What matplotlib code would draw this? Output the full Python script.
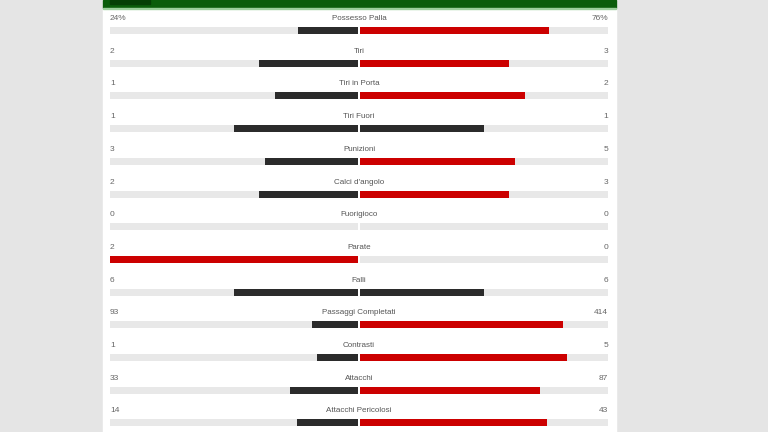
import matplotlib.pyplot as plt
from matplotlib.patches import Rectangle

plt.rcParams['font.family'] = ['Liberation Sans', 'DejaVu Sans']

stats = ["Possesso Palla", "Tiri", "Tiri in Porta", "Tiri Fuori", "Punizioni",
         "Calci d'angolo", "Fuorigioco", "Parate", "Falli", "Passaggi Completati",
         "Contrasti", "Attacchi", "Attacchi Pericolosi"]
home = [24, 2, 1, 1, 3, 2, 0, 2, 6, 93, 1, 33, 14]
away = [76, 3, 2, 1, 5, 3, 0, 0, 6, 414, 5, 87, 43]
home_labels = ["24%"] + [str(v) for v in home[1:]]
away_labels = ["76%"] + [str(v) for v in away[1:]]

DARK = "#2b2b2b"
RED = "#cc0000"
home_colors = [DARK] * 13
away_colors = [RED] * 13
home_colors[7] = RED       # Parate
away_colors[3] = DARK      # Tiri Fuori
away_colors[8] = DARK      # Falli

W, H = 768, 432
fig = plt.figure(figsize=(W / 100, H / 100), dpi=100)
fig.patch.set_facecolor("#e5e5e5")
ax = fig.add_axes([0, 0, 1, 1])
ax.set_xlim(0, W)
ax.set_ylim(H, 0)
ax.axis("off")

# panel + header
ax.add_patch(Rectangle((103, 0), 513, H, color="white", zorder=0))
ax.add_patch(Rectangle((103, 0), 513, 8, color="#0b5d0b", zorder=1))
ax.add_patch(Rectangle((110, 0), 40, 4, color="#053f05", zorder=2))
ax.add_patch(Rectangle((103, 8), 513, 1.2, color="#9ccf9c", zorder=1))

cx, half = 359, 249
gap = 1.2
step = 32.7
bar_h = 7
txt_c = "#666666"

for i, name in enumerate(stats):
    yb = 30.5 + step * i
    yt = 18.5 + step * i
    total = home[i] + away[i]
    fh = home[i] / total if total else 0
    fa = away[i] / total if total else 0
    # tracks
    ax.barh(yb, -(half - gap), left=cx - gap, height=bar_h, color="#e8e8e8", zorder=2)
    ax.barh(yb, half - gap, left=cx + gap, height=bar_h, color="#e8e8e8", zorder=2)
    # values
    if home[i]:
        ax.barh(yb, -(half - gap) * fh, left=cx - gap, height=bar_h, color=home_colors[i], zorder=3)
    if away[i]:
        ax.barh(yb, (half - gap) * fa, left=cx + gap, height=bar_h, color=away_colors[i], zorder=3)
    ax.text(cx, yt, name, ha="center", va="center", fontsize=5.8, color="#555555", zorder=4)
    ax.text(cx - half, yt, home_labels[i], ha="left", va="center", fontsize=6, color=txt_c, zorder=4)
    ax.text(cx + half, yt, away_labels[i], ha="right", va="center", fontsize=6, color=txt_c, zorder=4)

fig.savefig("out.png", dpi=100, facecolor=fig.get_facecolor())
